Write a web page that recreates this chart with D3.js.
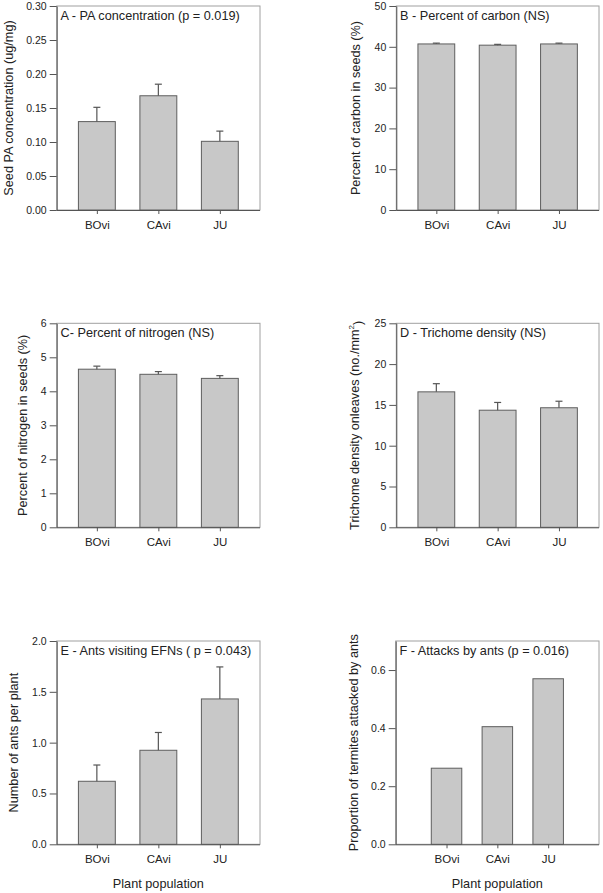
<!DOCTYPE html>
<html>
<head>
<meta charset="utf-8">
<script src="https://cdn.jsdelivr.net/npm/d3@7"></script>
<style>
  html, body { margin: 0; padding: 0; background: #fff; }
  svg { display: block; font-family: "Liberation Sans", Arial, sans-serif; }
</style>
</head>
<body>
<svg id="chart" width="603" height="893"></svg>
<script>
// ---------- data ----------
const categories = ["BOvi", "CAvi", "JU"];

const titleA = "A - PA concentration (p = 0.019)";
const meanA = [0.130, 0.168, 0.101];
const errA  = [0.021, 0.017, 0.015];
const ticksA = [0, 0.05, 0.10, 0.15, 0.20, 0.25, 0.30];

const titleB = "B - Percent of carbon (NS)";
const meanB = [40.7, 40.4, 40.7];
const errB  = [0.2, 0.2, 0.2];
const ticksB = [0, 10, 20, 30, 40, 50];

const titleC = "C- Percent of nitrogen (NS)";
const meanC = [4.65, 4.50, 4.38];
const errC  = [0.09, 0.08, 0.08];
const ticksC = [0, 1, 2, 3, 4, 5, 6];

const titleD = "D - Trichome density (NS)";
const meanD = [16.6, 14.35, 14.65];
const errD  = [1.0, 0.95, 0.8];
const ticksD = [0, 5, 10, 15, 20, 25];

const titleE = "E - Ants visiting EFNs ( p = 0.043)";
const meanE = [0.62, 0.925, 1.43];
const errE  = [0.16, 0.175, 0.315];
const ticksE = [0, 0.5, 1.0, 1.5, 2.0];

const titleF = "F - Attacks by ants (p = 0.016)";
const meanF = [0.262, 0.405, 0.570];
const ticksF = [0, 0.2, 0.4, 0.6];

const xTitle = "Plant population";

// ---------- layout ----------
const panels = [
  { title: titleA, mean: meanA, err: errA, ticks: ticksA, max: 0.30, fmt: ".2f",
    yTitle: ["Seed PA concentration (ug/mg)"], box: [56.7, 260, 6, 210], yTitleX: 9, pad: 0.653, xTitle: false },
  { title: titleB, mean: meanB, err: errB, ticks: ticksB, max: 50, fmt: "d",
    yTitle: ["Percent of carbon in seeds (%)"], box: [396.3, 599, 6, 210], yTitleX: 356, pad: 0.653, xTitle: false },
  { title: titleC, mean: meanC, err: errC, ticks: ticksC, max: 6, fmt: "d",
    yTitle: ["Percent of nitrogen in seeds (%)"], box: [56.7, 260, 323.3, 527.3], yTitleX: 23, pad: 0.653, xTitle: false },
  { title: titleD, mean: meanD, err: errD, ticks: ticksD, max: 25, fmt: "d",
    yTitle: ["Trichome density onleaves (no./mm", "2", ")"], box: [396.3, 599, 323.3, 527.3], yTitleX: 355, pad: 0.653, xTitle: false },
  { title: titleE, mean: meanE, err: errE, ticks: ticksE, max: 2.0, fmt: ".1f",
    yTitle: ["Number of ants per plant"], box: [56.7, 260, 641, 844.3], yTitleX: 14, pad: 0.653, xTitle: true },
  { title: titleF, mean: meanF, err: null, ticks: ticksF, max: 0.70, fmt: ".1f",
    yTitle: ["Proportion of termites attacked by ants"], box: [395.7, 599, 641, 844.3], yTitleX: 354, pad: 1.0, xTitle: true }
];

const svg = d3.select("#chart");
const textColor = "#222";
const axisColor = "#555";
const frameColor = "#a0a0a0";
const fontFam = "'Liberation Sans', Arial, sans-serif";

panels.forEach(p => {
  const [l, r, t, b] = p.box;
  const g = svg.append("g");

  const x = d3.scalePoint().domain(categories).range([l, r]).padding(p.pad);
  const y = d3.scaleLinear().domain([0, p.max]).range([b, t]);
  const bw = x.step() * 0.6;

  // frame (top/right lighter)
  g.append("rect").attr("x", l).attr("y", t).attr("width", r - l).attr("height", b - t)
    .attr("fill", "none").attr("stroke", frameColor).attr("stroke-width", 1);

  // bars
  const data = categories.map((c, i) => ({ c, v: p.mean[i], e: p.err ? p.err[i] : null }));
  g.selectAll("rect.bar").data(data).join("rect").attr("class", "bar")
    .attr("x", d => x(d.c) - bw / 2).attr("width", bw)
    .attr("y", d => y(d.v)).attr("height", d => y(0) - y(d.v))
    .attr("fill", "#c8c8c8").attr("stroke", "#5e5e5e").attr("stroke-width", 1);

  // error bars (upper only)
  if (p.err) {
    const eb = g.selectAll("g.err").data(data).join("g").attr("class", "err");
    eb.append("line")
      .attr("x1", d => x(d.c)).attr("x2", d => x(d.c))
      .attr("y1", d => y(d.v)).attr("y2", d => y(d.v + d.e))
      .attr("stroke", "#555").attr("stroke-width", 1.2);
    eb.append("line")
      .attr("x1", d => x(d.c) - 3.5).attr("x2", d => x(d.c) + 3.5)
      .attr("y1", d => y(d.v + d.e)).attr("y2", d => y(d.v + d.e))
      .attr("stroke", "#555").attr("stroke-width", 1.2);
  }

  // y axis
  const yAxis = d3.axisLeft(y).tickValues(p.ticks).tickFormat(d3.format(p.fmt))
    .tickSize(7).tickSizeOuter(0).tickPadding(3);
  const ya = g.append("g").attr("transform", `translate(${l},0)`).call(yAxis);
  ya.select(".domain").attr("stroke", axisColor);
  ya.selectAll(".tick line").attr("stroke", axisColor);
  ya.selectAll(".tick text").attr("fill", textColor).attr("font-size", 10.5)
    .attr("font-family", fontFam);

  // x axis
  const xAxis = d3.axisBottom(x).tickSize(4).tickSizeOuter(0).tickPadding(7);
  const xa = g.append("g").attr("transform", `translate(0,${b})`).call(xAxis);
  xa.select(".domain").attr("stroke", axisColor).attr("d", `M${l},0.5H${r}`);
  xa.selectAll(".tick line").attr("stroke", axisColor);
  xa.selectAll(".tick text").attr("fill", textColor).attr("font-size", 11.5)
    .attr("font-family", fontFam);

  // panel title
  g.append("text").attr("x", l + 3.8).attr("y", t + 14)
    .attr("font-size", 12.7).attr("fill", textColor).text(p.title);

  // y title
  const yt = g.append("text")
    .attr("transform", `translate(${p.yTitleX},${(t + b) / 2}) rotate(-90)`)
    .attr("text-anchor", "middle").attr("dy", "0.3em")
    .attr("font-size", 12.7).attr("fill", textColor);
  yt.append("tspan").text(p.yTitle[0]);
  if (p.yTitle.length > 1) {
    yt.append("tspan").attr("font-size", 8).attr("dy", "-0.6em").text(p.yTitle[1]);
    yt.append("tspan").attr("dy", "0.6em").text(p.yTitle[2]);
  }

  // x title
  if (p.xTitle) {
    g.append("text").attr("x", (l + r) / 2).attr("y", b + 44)
      .attr("text-anchor", "middle").attr("font-size", 12.7).attr("fill", textColor)
      .text(xTitle);
  }
});
</script>
</body>
</html>
